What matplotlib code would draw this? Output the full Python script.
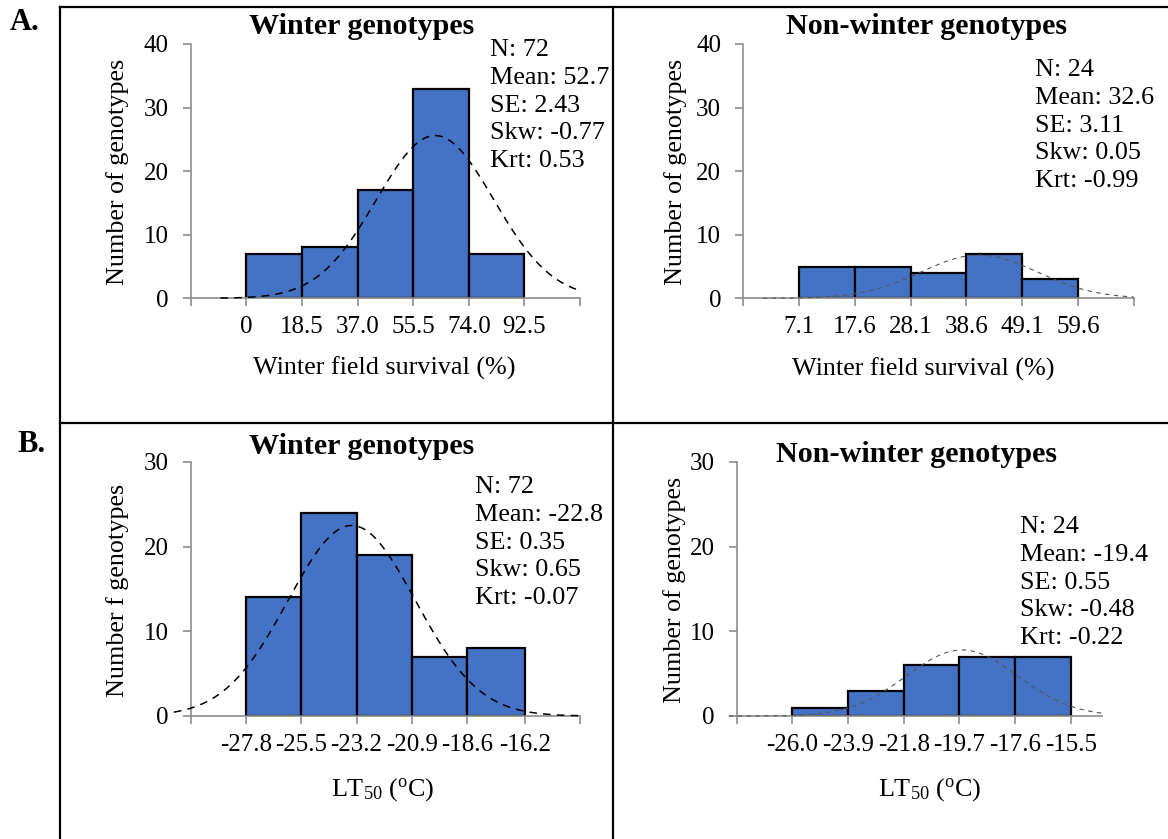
import numpy as np
import matplotlib
matplotlib.use('Agg')
import matplotlib.pyplot as plt
from matplotlib.lines import Line2D

plt.rcParams['font.family'] = ['Liberation Serif', 'DejaVu Serif']
plt.rcParams['mathtext.fontset'] = 'custom'
plt.rcParams['mathtext.rm'] = 'Liberation Serif'
plt.rcParams['mathtext.it'] = 'Liberation Serif:italic'

W, H = 1168, 839

# histogram bins (edges as printed under the axis) and counts
a_win_edges = [0, 18.5, 37.0, 55.5, 74.0, 92.5]
a_win_labels = ['0', '18.5', '37.0', '55.5', '74.0', '92.5']
a_win_counts = [7, 8, 17, 33, 7]

a_non_edges = [7.1, 17.6, 28.1, 38.6, 49.1, 59.6]
a_non_labels = ['7.1', '17.6', '28.1', '38.6', '49.1', '59.6']
a_non_counts = [5, 5, 4, 7, 3]

b_win_edges = [-27.8, -25.5, -23.2, -20.9, -18.6, -16.2]
b_win_labels = ['-27.8', '-25.5', '-23.2', '-20.9', '-18.6', '-16.2']
b_win_counts = [14, 24, 19, 7, 8]

b_non_edges = [-26.0, -23.9, -21.8, -19.7, -17.6, -15.5]
b_non_labels = ['-26.0', '-23.9', '-21.8', '-19.7', '-17.6', '-15.5']
b_non_counts = [1, 3, 6, 7, 7]

# summary statistics
a_win_stats = ['N: 72', 'Mean: 52.7', 'SE: 2.43', 'Skw: -0.77', 'Krt: 0.53']
a_non_stats = ['N: 24', 'Mean: 32.6', 'SE: 3.11', 'Skw: 0.05', 'Krt: -0.99']
b_win_stats = ['N: 72', 'Mean: -22.8', 'SE: 0.35', 'Skw: 0.65', 'Krt: -0.07']
b_non_stats = ['N: 24', 'Mean: -19.4', 'SE: 0.55', 'Skw: -0.48', 'Krt: -0.22']

# fitted normal curves: centre, sd, peak height, x range
a_win_fit = [62.8, 19.5, 25.6, -8.6, 111.0]
a_non_fit = [41.0, 11.0, 6.8, 0.3, 70.1]
b_win_fit = [-23.4, 2.65, 22.5, -30.8, -13.9]
b_non_fit = [-19.6, 2.1, 7.8, -28.4, -14.33]

BLUE = '#4472C4'
GREY = '#8c8c8c'


def fx(x):
    return x / W


def fy(y):
    return 1 - y / H


fig = plt.figure(figsize=(W / 100, H / 100), dpi=100)


def panel(rect, edges, labels, counts, fit, xlim, ymax, end_ticks,
          title, title_xy, stats, stats_xy, ylabel, ylab_xy, xlabel, xlab_xy,
          dark_curve):
    l, t, r, b = rect
    ax = fig.add_axes([fx(l), fy(b), fx(r - l), (b - t) / H])
    widths = np.diff(edges)
    ax.bar(edges[:-1], counts, width=widths, align='edge', color=BLUE,
           edgecolor='black', linewidth=1.6, zorder=2)
    c, sd, pk, x0, x1 = fit
    xs = np.linspace(x0, x1, 300)
    ys = pk * np.exp(-0.5 * ((xs - c) / sd) ** 2)
    if dark_curve:
        ax.plot(xs, ys, color='black', lw=1.1, dashes=(5, 4), zorder=3, clip_on=False)
    else:
        ax.plot(xs, ys, color='#555555', lw=0.8, dashes=(4, 4), zorder=3, clip_on=False)
    ax.set_xlim(*xlim)
    ax.set_ylim(0, ymax)
    for s in ['top', 'right']:
        ax.spines[s].set_visible(False)
    for s in ['left', 'bottom']:
        ax.spines[s].set_color(GREY)
        ax.spines[s].set_linewidth(1.2)
    ticks = list(edges)
    tlabels = list(labels)
    if end_ticks[0]:
        ticks = [xlim[0]] + ticks
        tlabels = [''] + tlabels
    if end_ticks[1]:
        ticks = ticks + [xlim[1]]
        tlabels = tlabels + ['']
    ax.set_xticks(ticks)
    ax.set_xticklabels(tlabels)
    ax.set_yticks(np.arange(0, ymax + 1, 10))
    ax.tick_params(axis='both', direction='out', length=6, width=1.2,
                   color=GREY, labelsize=18)
    ax.tick_params(axis='x', pad=7)
    ax.tick_params(axis='y', pad=10)
    fig.text(fx(title_xy[0]), fy(title_xy[1]), title, ha='center', va='center',
             fontsize=21.7, fontweight='bold')
    fig.text(fx(stats_xy[0]), fy(stats_xy[1]), '\n'.join(stats), ha='left', va='top',
             fontsize=18.8, linespacing=1.34)
    fig.text(fx(ylab_xy[0]), fy(ylab_xy[1]), ylabel, ha='center', va='center',
             rotation=90, fontsize=18.8)
    fig.text(fx(xlab_xy[0]), fy(xlab_xy[1]), xlabel, ha='center', va='center',
             fontsize=18.8)
    return ax


lt50 = r'LT$_{50}$ ($^{\mathrm{o}}$C)'

panel((190.7, 44, 580, 298.3), a_win_edges, a_win_labels, a_win_counts, a_win_fit,
      (-18.5, 111.0), 40, (True, True), 'Winter genotypes', (362, 27),
      a_win_stats, (490, 39), 'Number of genotypes', (118, 172),
      'Winter field survival (%)', (384, 368), True)

panel((743.3, 44, 1133.7, 298.3), a_non_edges, a_non_labels, a_non_counts, a_non_fit,
      (-3.4, 70.1), 40, (True, True), 'Non-winter genotypes', (927, 27),
      a_non_stats, (1035, 59), 'Number of genotypes', (676, 172),
      'Winter field survival (%)', (923, 369), False)

panel((190.7, 462, 580, 716), b_win_edges, b_win_labels, b_win_counts, b_win_fit,
      (-30.1, -13.9), 30, (True, True), 'Winter genotypes', (362, 447),
      b_win_stats, (475, 476), 'Number f genotypes', (118, 590),
      lt50, (383, 790), True)

panel((736.7, 462, 1101.7, 716), b_non_edges, b_non_labels, b_non_counts, b_non_fit,
      (-28.1, -14.33), 30, (True, False), 'Non-winter genotypes', (916, 455),
      b_non_stats, (1020, 516), 'Number of genotypes', (675, 590),
      lt50, (930, 790), False)

# panel letters
fig.text(fx(25), fy(23), 'A.', ha='center', va='center', fontsize=22, fontweight='bold')
fig.text(fx(32), fy(444), 'B.', ha='center', va='center', fontsize=22, fontweight='bold')

# frame lines around the four panels
frame = dict(color='black', lw=1.6, transform=fig.transFigure)
fig.add_artist(Line2D([fx(60), fx(W)], [fy(7), fy(7)], **frame))
fig.add_artist(Line2D([fx(60), fx(60)], [fy(7), fy(H)], **frame))
fig.add_artist(Line2D([fx(613), fx(613)], [fy(7), fy(H)], **frame))
fig.add_artist(Line2D([fx(60), fx(W)], [fy(423), fy(423)], **frame))

fig.savefig('out.png', dpi=100)
